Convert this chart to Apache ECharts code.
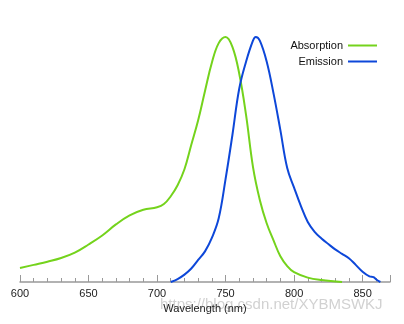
<!DOCTYPE html>
<html><head><meta charset="utf-8">
<script src="https://cdn.jsdelivr.net/npm/echarts@6/dist/echarts.min.js"></script>
<style>html,body{margin:0;padding:0;background:#fff}#c{width:404px;height:324px}</style>
</head><body><div id="c"></div>
<script>
const absWl  = [600,610,620,630,640,650,660,670,680,690,700,705,710,715,720,725,730,735,740,745,750,755,760,765,770,775,780,785,790,795,800,810,820,835];
const absVal = [0.057,0.07,0.083,0.098,0.12,0.153,0.19,0.235,0.272,0.295,0.305,0.318,0.35,0.395,0.46,0.56,0.66,0.78,0.895,0.975,1.0,0.96,0.85,0.68,0.47,0.335,0.24,0.17,0.105,0.065,0.04,0.018,0.008,0.0];
const emWl  = [710,715,720,725,730,735,740,745,750,755,760,765,770,772,775,780,785,790,795,800,805,810,815,820,825,830,835,840,845,850,855,858,860,863];
const emVal = [0.0,0.012,0.03,0.055,0.09,0.125,0.18,0.26,0.42,0.6,0.79,0.9,0.985,1.0,0.985,0.9,0.77,0.62,0.465,0.385,0.31,0.245,0.205,0.178,0.155,0.133,0.115,0.097,0.07,0.042,0.023,0.02,0.01,0.0];
const xTicks = [600,650,700,750,800,850];
const seriesNames = ['Absorption','Emission'];
const colors = ['#74d31c','#0d47d9'];

const chart = echarts.init(document.getElementById('c'));
const pairs = (xs, ys) => xs.map((x,i)=>[x, ys[i]]);
const font = 'Liberation Sans, Arial';
chart.setOption({
  animation:false,
  grid:{left:20,right:14,top:37,bottom:42},
  xAxis:{type:'value',min:600,max:870,interval:50,
    name:'Wavelength (nm)',nameLocation:'middle',nameGap:18,
    nameTextStyle:{fontSize:11,color:'#222',fontFamily:font},
    axisLine:{lineStyle:{color:'#999',width:1.5}},
    axisTick:{inside:true,length:7,lineStyle:{color:'#999'}},
    minorTick:{show:true,splitNumber:5,length:4,lineStyle:{color:'#999'}},
    splitLine:{show:false},
    axisLabel:{margin:6,fontSize:11,color:'#222',fontFamily:font,
      formatter:v=>xTicks.includes(v)?String(v):''}
  },
  yAxis:{type:'value',min:0,max:1,show:false},
  legend:[
    {data:[seriesNames[0]],right:27,top:40,padding:0,orient:'vertical',align:'right',icon:'rect',itemWidth:29,itemHeight:2,
     textStyle:{fontSize:11,color:'#111',fontFamily:font}},
    {data:[seriesNames[1]],right:27,top:56,padding:0,orient:'vertical',align:'right',icon:'rect',itemWidth:29,itemHeight:2,
     textStyle:{fontSize:11,color:'#111',fontFamily:font}}
  ],
  graphic:[{type:'text',left:160,top:297,style:{text:'https://blog.csdn.net/XYBMSWKJ',fontSize:15,fill:'rgba(190,190,190,0.7)',fontFamily:font}}],
  series:[
    {name:seriesNames[0],type:'line',data:pairs(absWl,absVal),smooth:0.4,showSymbol:false,
     lineStyle:{color:colors[0],width:2},itemStyle:{color:colors[0]}},
    {name:seriesNames[1],type:'line',data:pairs(emWl,emVal),smooth:0.4,showSymbol:false,
     lineStyle:{color:colors[1],width:2},itemStyle:{color:colors[1]}}
  ]
});
</script></body></html>
